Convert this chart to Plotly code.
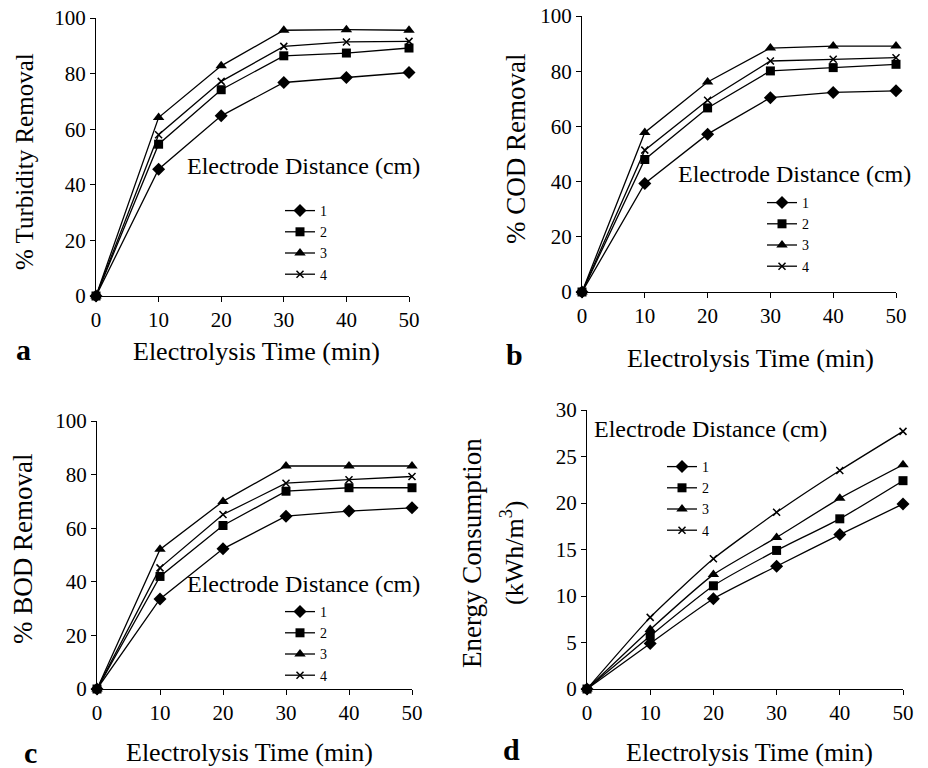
import plotly.graph_objects as go

time_min = [0, 10, 20, 30, 40, 50]
distances = ["1", "2", "3", "4"]

turbidity = {
    "1": [0, 45.6, 64.8, 76.8, 78.6, 80.4],
    "2": [0, 54.6, 74.2, 86.4, 87.4, 89.2],
    "3": [0, 64.2, 82.8, 95.6, 95.8, 95.6],
    "4": [0, 58.0, 77.2, 89.8, 91.4, 91.6],
}
cod = {
    "1": [0, 39.3, 57.2, 70.4, 72.3, 72.9],
    "2": [0, 48.0, 66.7, 80.1, 81.3, 82.5],
    "3": [0, 57.8, 76.1, 88.4, 89.1, 89.1],
    "4": [0, 51.4, 69.5, 83.7, 84.3, 84.9],
}
bod = {
    "1": [0, 33.6, 52.3, 64.5, 66.4, 67.6],
    "2": [0, 42.0, 61.0, 73.8, 75.1, 75.1],
    "3": [0, 52.1, 70.0, 83.2, 83.2, 83.2],
    "4": [0, 45.2, 65.1, 76.8, 78.1, 79.3],
}
energy = {
    "1": [0, 4.9, 9.7, 13.2, 16.6, 19.9],
    "2": [0, 5.7, 11.1, 14.9, 18.3, 22.4],
    "3": [0, 6.4, 12.3, 16.3, 20.5, 24.1],
    "4": [0, 7.7, 14.0, 19.0, 23.5, 27.7],
}

panel_letters = ["a", "b", "c", "d"]
y_titles = ["% Turbidity Removal", "% COD Removal", "% BOD Removal",
            "Energy Consumption", "(kWh/m<sup>3</sup>)"]
x_title = "Electrolysis Time (min)"
legend_title = "Electrode Distance (cm)"

# the page body has an 8px margin; the figure starts at (8, 8) in the window
OFF = 8
W, H = 928 - OFF, 768 - OFF
FONT = "Liberation Serif"

def px_x(v):
    return (v - OFF) / W

def px_y(v):
    return 1 - (v - OFF) / H

# plot-area pixel boxes in window coords: (left, right, top, bottom)
boxes = [
    (96, 409, 18, 296),
    (582, 896, 16, 292),
    (97, 412, 421, 689),
    (587, 903, 410, 689),
]

symbols = {
    "1": dict(symbol="diamond", size=10, color="black"),
    "2": dict(symbol="square", size=9, color="black"),
    "3": dict(symbol="triangle-up", size=10, color="black"),
    "4": dict(symbol="x-thin", size=7, color="black", line=dict(width=1.5, color="black")),
}

datasets = [turbidity, cod, bod, energy]
fig = go.Figure()

legend_pos = [  # (x px of legend left, y px of top) in window coords
    (280, 195),
    (762, 187),
    (280, 596),
    (662, 451),
]

for i, data in enumerate(datasets):
    xa = "x" if i == 0 else f"x{i+1}"
    ya = "y" if i == 0 else f"y{i+1}"
    lg = "legend" if i == 0 else f"legend{i+1}"
    for d in distances:
        fig.add_trace(go.Scatter(
            x=time_min, y=data[d], name=d, mode="lines+markers",
            xaxis=xa, yaxis=ya, legend=lg,
            line=dict(color="black", width=1.3,
                      shape="spline" if i == 3 else "linear", smoothing=0.5),
            marker=symbols[d], cliponaxis=False,
        ))

layout = dict(
    template="none",
    width=W, height=H, margin=dict(l=0, r=0, t=0, b=0, autoexpand=False),
    paper_bgcolor="white", plot_bgcolor="white",
    font=dict(family=FONT, color="black", size=19),
    showlegend=True,
)

for i, (l, r, t, b) in enumerate(boxes):
    suf = "" if i == 0 else str(i + 1)
    yr = [0, 30] if i == 3 else [0, 100]
    dt = 5 if i == 3 else 20
    layout["xaxis" + suf] = dict(
        domain=[px_x(l), px_x(r)], range=[0, 50], anchor="y" + suf,
        tickvals=time_min, showgrid=False, zeroline=False, automargin=False,
        showline=True, linecolor="black", linewidth=1.3,
        ticks="outside", ticklen=5, tickcolor="black", tickwidth=1.3,
        tickfont=dict(size=21, family=FONT), ticklabeloverflow="allow",
    )
    layout["yaxis" + suf] = dict(
        domain=[px_y(b), px_y(t)], range=yr, anchor="x" + suf,
        dtick=dt, showgrid=False, zeroline=False, automargin=False,
        showline=True, linecolor="black", linewidth=1.3,
        ticks="outside", ticklen=5, tickcolor="black", tickwidth=1.3,
        tickfont=dict(size=21, family=FONT), ticklabeloverflow="allow",
    )
    lx, ly = legend_pos[i]
    layout["legend" + ("" if i == 0 else str(i + 1))] = dict(
        x=px_x(lx), y=px_y(ly), xanchor="left", yanchor="top",
        bgcolor="rgba(0,0,0,0)", borderwidth=0,
        font=dict(size=14, family=FONT), tracegroupgap=0,
        itemwidth=30,
    )

annotations = []
# legend titles (left px, center y px)
leg_titles = [(185, 166), (676, 174), (185, 584), (592, 429)]
for (x, y) in leg_titles:
    annotations.append(dict(text=legend_title, x=px_x(x), y=px_y(y), xref="paper", yref="paper",
                            xanchor="left", yanchor="middle", showarrow=False,
                            font=dict(size=24, family=FONT)))
# panel letters
letters_pos = [(23, 350), (514, 355), (30, 752), (512, 749)]
for k, (x, y) in enumerate(letters_pos):
    annotations.append(dict(text=f"<b>{panel_letters[k]}</b>", x=px_x(x), y=px_y(y),
                            xref="paper", yref="paper", xanchor="center", yanchor="middle",
                            showarrow=False, font=dict(size=30, family=FONT)))
# x titles
xt_pos = [(256, 351), (750, 358), (250, 752), (749, 752)]
for (x, y) in xt_pos:
    annotations.append(dict(text=x_title, x=px_x(x), y=px_y(y), xref="paper", yref="paper",
                            xanchor="center", yanchor="middle", showarrow=False,
                            font=dict(size=26, family=FONT)))
# y titles
yt_pos = [(25, 162), (516, 149), (23, 549), (472, 553), (512, 553)]
yt_sizes = [25, 27, 27, 27, 26]
for k, (x, y) in enumerate(yt_pos):
    annotations.append(dict(text=y_titles[k], x=px_x(x), y=px_y(y), xref="paper", yref="paper",
                            xanchor="center", yanchor="middle", showarrow=False, textangle=-90,
                            font=dict(size=yt_sizes[k], family=FONT)))
layout["annotations"] = annotations

fig.update_layout(**layout)
fig.write_html("out.html")
